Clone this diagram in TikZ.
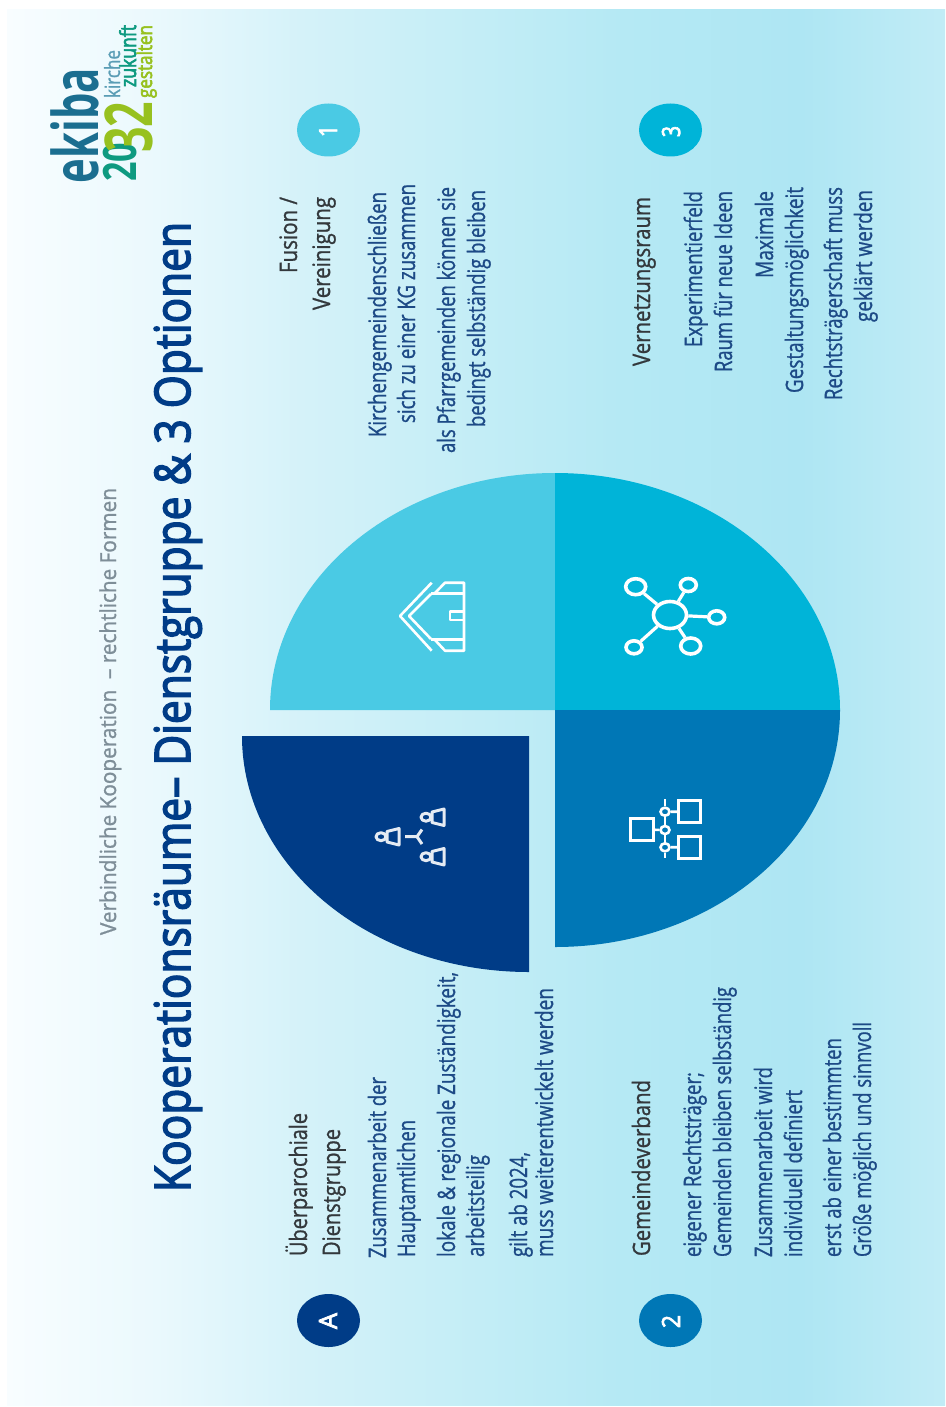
\documentclass[tikz,border=0pt]{standalone}
\usepackage{fontspec}
\usepackage{graphicx}
\setmainfont{Open Sans}
\newfontfamily{\bodyfam}[FakeBold=1.1]{Open Sans}
\newfontfamily{\titlefam}[FakeBold=3.2]{Open Sans}
\usetikzlibrary{shapes.geometric}
\definecolor{cA}{HTML}{003C87}
\definecolor{cTwo}{HTML}{0077B6}
\definecolor{cOne}{HTML}{4ACAE4}
\definecolor{cThree}{HTML}{00B4D8}
\definecolor{bodyc}{HTML}{1D4A86}
\definecolor{headc}{HTML}{33383C}
\definecolor{subc}{HTML}{7E8E98}
\definecolor{lgBlue}{HTML}{1B6E90}
\definecolor{lgTeal}{HTML}{0E9A80}
\definecolor{lgGreen}{HTML}{97C11F}
\definecolor{lgGrey}{HTML}{5A9DB5}
\definecolor{bg0}{HTML}{F8FDFF}
\definecolor{bg1}{HTML}{EBF9FD}
\definecolor{bg2}{HTML}{D5F2F9}
\definecolor{bg3}{HTML}{C3EDF6}
\definecolor{bg4}{HTML}{B5E9F4}
\definecolor{bg5}{HTML}{AEE6F3}
\definecolor{bg6}{HTML}{C1ECF6}
\pgfdeclarehorizontalshading{bgshade}{100bp}{color(0bp)=(bg0); color(25bp)=(bg0); color(32.6bp)=(bg1); color(40.6bp)=(bg2); color(50.2bp)=(bg3); color(57.7bp)=(bg4); color(67.3bp)=(bg5); color(75bp)=(bg6); color(100bp)=(bg6)}
\newsavebox{\fitbox}
\newcommand{\fitline}[2]{\sbox{\fitbox}{#2}\pgfmathsetmacro{\fitr}{(#1)/\wd\fitbox}\scalebox{\fitr}[1]{\usebox{\fitbox}}}
% \tline{style}{name}{baseline x}{bottom y}{top y}{text}
\newcommand{\tline}[6]{\node[txt,#1] (#2) at (#3,#4) {\fitline{#4-#5}{#6}};}
\tikzset{
  txt/.style={rotate=90,anchor=base west,inner sep=0pt,outer sep=0pt},
  bodyt/.style={text=bodyc,font=\fontsize{24}{28}\bodyfam\selectfont},
  headt/.style={text=headc,font=\fontsize{24}{28}\bodyfam\selectfont},
  subt/.style={text=subc,font=\fontsize{22}{26}\bodyfam\selectfont},
  titlet/.style={text=cA,font=\fontsize{49}{56}\titlefam\selectfont},
  digit/.style={text=white,font=\fontsize{25}{28}\titlefam\selectfont},
  badge/.style={ellipse,minimum width=63pt,minimum height=53pt,inner sep=0pt},
  ico/.style={draw=white,line width=2.6pt,line join=round},
  hub/.style={ellipse,draw=white,line width=3.6pt,inner sep=0pt},
  boxi/.style={draw=white,line width=2.8pt,inner sep=0pt},
  dot/.style={ellipse,draw=white,line width=2.6pt,minimum width=9pt,minimum height=8pt,inner sep=0pt},
  ppl/.style={ico,draw=white!90!cA,line width=3pt}
}
\begin{document}
\begin{tikzpicture}[x=1pt,y=-1pt]
\useasboundingbox (0,0) rectangle (945,1407);
\fill[white] (0,0) rectangle (945,1407);
\shade[shading=bgshade] (7,10) rectangle (945,1405);

% pie
\fill[cOne] (270,710) arc[start angle=180,end angle=90,x radius=285pt,y radius=237pt] -- (555,710) -- cycle;
\fill[cThree] (555,473) arc[start angle=90,end angle=0,x radius=285pt,y radius=237pt] -- (555,710) -- cycle;
\fill[cTwo] (840,710) arc[start angle=0,end angle=-90,x radius=285pt,y radius=237pt] -- (555,710) -- cycle;
\fill[cA] (529,972) arc[start angle=-90,end angle=-180,x radius=287pt,y radius=236pt] -- (529,736) -- cycle;

% house icon
\draw[ico] (431.7,582.7) -- (400,616) -- (431.7,650.7);
\draw[ico] (431,594) -- (409,616) -- (431,639);
\draw[ico] (431,593.5) -- (463,593.5);
\draw[ico] (431,639.5) -- (463,639.5);
\draw[ico] (435,593) -- (445,582.7) -- (464,582.7) -- (464,650.7) -- (445,650.7) -- (435,640);
\draw[ico] (464,611.7) -- (450,611.7) -- (450,620) -- (464,620);

% network icon
\node[hub,minimum width=33pt,minimum height=27pt] (nc) at (670,615) {};
\node[hub,minimum width=20pt,minimum height=16pt] (n1) at (635.7,586.7) {};
\node[hub,minimum width=16pt,minimum height=13pt] (n2) at (688.3,585) {};
\node[hub,minimum width=16pt,minimum height=13pt] (n3) at (716.7,617.3) {};
\node[hub,minimum width=16pt,minimum height=13pt] (n4) at (634,647.3) {};
\node[hub,minimum width=20pt,minimum height=16pt] (n5) at (690.7,646) {};
\foreach \s in {n1,n2,n3,n4,n5} \draw[white,line width=3.2pt] (nc) -- (\s);

% org icon
\node[boxi,minimum width=23pt,minimum height=22pt] (bl) at (641.7,829.5) {};
\node[boxi,minimum width=22pt,minimum height=22pt] (br1) at (689.5,811.7) {};
\node[boxi,minimum width=22pt,minimum height=22pt] (br2) at (689.5,847.2) {};
\coordinate (vt) at (665,799.3);
\coordinate (vb) at (665,858.3);
\node[dot] (d1) at (665,811.7) {};
\node[dot] (d2) at (665,830) {};
\node[dot] (d3) at (665,847.3) {};
\draw[ico] (vt) -- (d1) (d1) -- (d2) (d2) -- (d3) (d3) -- (vb);
\draw[ico] (bl) -- (d2) (d1) -- (br1) (d3) -- (br2);

% people icon
\foreach \dx/\dy in {0/0,45/-19.5,45/20}{
  \begin{scope}[shift={(\dx,\dy)}]
    \draw[ppl] (381,836.7) ellipse[x radius=5pt,y radius=4pt];
    \draw[ppl] (387,831.5) -- (399,828.5) -- (399,845) -- (387,842) -- cycle;
  \end{scope}
}
\draw[ppl] (405,836.7) -- (417,836.7) -- (422,829.5);
\draw[ppl] (417,836.7) -- (422,844);

% titles
\tline{subt}{sub}{116}{935}{488}{Verbindliche Kooperation \ – rechtliche Formen}
\tline{titlet}{title}{190}{1192}{222}{Kooperationsräume– Dienstgruppe \& 3 Optionen}

% badges
\node[badge,fill=cOne] (b1) at (328.5,130) {};
\node[badge,fill=cThree] (b3) at (670.5,130) {};
\node[badge,fill=cA] (bA) at (328.5,1320.5) {};
\node[badge,fill=cTwo] (b2) at (670.5,1320.5) {};
\tline{digit}{d1t}{337}{137}{125}{1}
\tline{digit}{d3t}{680}{137}{126}{3}
\tline{digit}{dAt}{337}{1329}{1313}{A}
\tline{digit}{d2t}{680}{1328}{1315}{2}

% option 1
\tline{headt}{f1}{297}{273}{197}{Fusion /}
\tline{headt}{f2}{330}{310}{197}{Vereinigung}
\tline{bodyt}{f3}{386}{437}{192}{Kirchengemeindenschließen}
\tline{bodyt}{f4}{415}{423}{184}{sich zu einer KG zusammen}
\tline{bodyt}{f5}{455}{453}{187}{als Pfarrgemeinden können sie}
\tline{bodyt}{f6}{485}{427}{190}{bedingt selbständig bleiben}

% option 3
\tline{headt}{v1}{650}{366}{197}{Vernetzungsraum}
\tline{bodyt}{v2}{702}{347}{191}{Experimentierfeld}
\tline{bodyt}{v3}{732}{372}{191}{Raum für neue Ideen}
\tline{bodyt}{v4}{773}{278}{191}{Maximale}
\tline{bodyt}{v5}{803}{393}{187}{Gestaltungsmöglichkeit}
\tline{bodyt}{v6}{842}{400}{187}{Rechtsträgerschaft muss}
\tline{bodyt}{v7}{872}{322}{190}{geklärt werden}

% option A
\tline{headt}{a1}{307}{1256}{1113}{Überparochiale}
\tline{headt}{a2}{340}{1256}{1129}{Dienstgruppe}
\tline{bodyt}{a3}{386}{1258}{1077}{Zusammenarbeit der}
\tline{bodyt}{a4}{415}{1257}{1120}{Hauptamtlichen}
\tline{bodyt}{a5}{455}{1257}{972}{lokale \& regionale Zuständigkeit,}
\tline{bodyt}{a6}{484}{1257}{1155}{arbeitsteilig}
\tline{bodyt}{a7}{527}{1257}{1152}{gilt ab 2024,}
\tline{bodyt}{a8}{553}{1257}{988}{muss weiterentwickelt werden}

% option 2
\tline{headt}{g1}{650}{1256}{1080}{Gemeindeverband}
\tline{bodyt}{g2}{701}{1257}{1072}{eigener Rechtsträger;}
\tline{bodyt}{g3}{731}{1257}{987}{Gemeinden bleiben selbständig}
\tline{bodyt}{g4}{772}{1257}{1067}{Zusammenarbeit wird}
\tline{bodyt}{g5}{802}{1257}{1090}{individuell definiert}
\tline{bodyt}{g6}{841}{1257}{1038}{erst ab einer bestimmten}
\tline{bodyt}{g7}{871}{1257}{1022}{Größe möglich und sinnvoll}

% logo
\tline{text=lgBlue,font=\fontsize{63}{70}\selectfont\bfseries}{lg1}{98}{183}{68}{ekiba}
\tline{text=lgTeal,font=\fontsize{46}{50}\selectfont\bfseries}{lg2}{136}{182}{143}{20}
\tline{text=lgGreen,font=\fontsize{66}{70}\selectfont\bfseries}{lg3}{152}{153}{102}{32}
\tline{text=lgGrey,font=\fontsize{21}{24}\bodyfam\selectfont}{lg4}{120}{98}{50}{kirche}
\tline{text=lgTeal,font=\fontsize{22}{24}\titlefam\selectfont}{lg5}{136}{87}{25}{zukunft}
\tline{text=lgGreen,font=\fontsize{20}{24}\titlefam\selectfont}{lg6}{152}{98}{25}{gestalten}
\end{tikzpicture}
\end{document}
